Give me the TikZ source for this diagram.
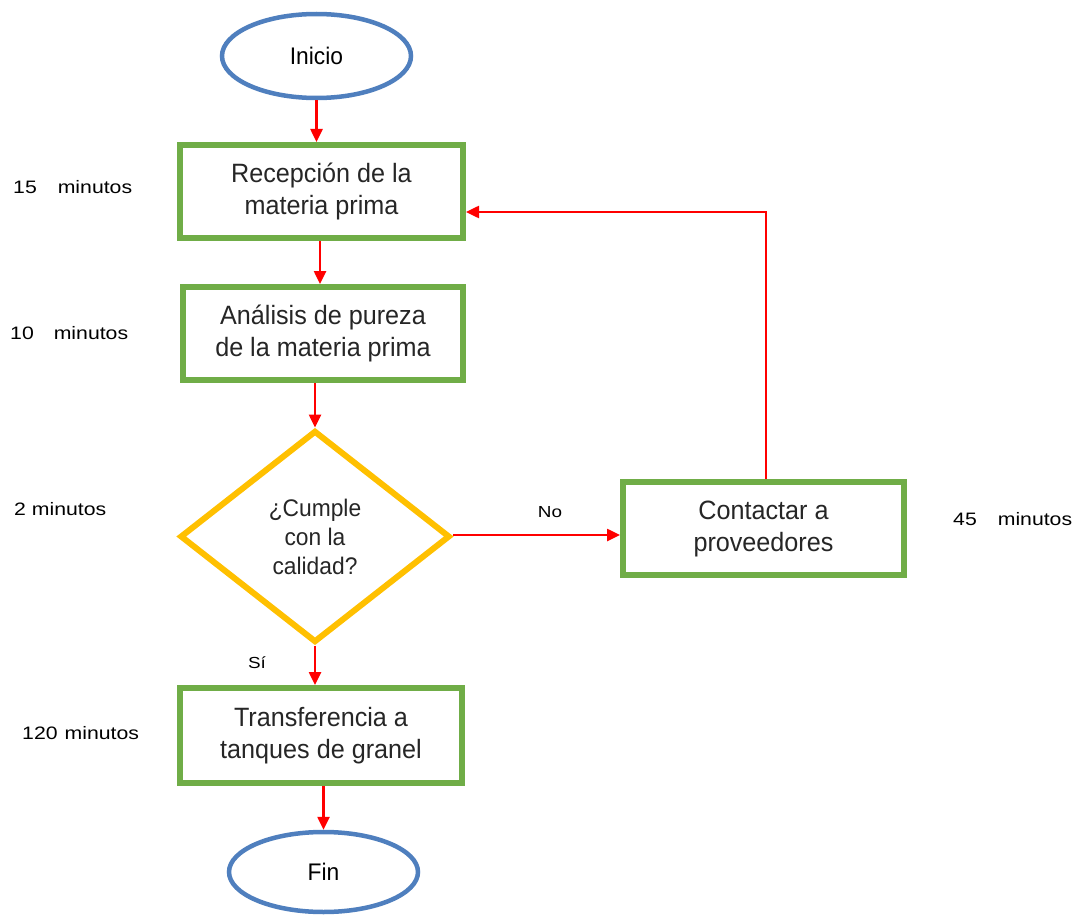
\documentclass[tikz,border=0pt]{standalone}
\usepackage{fontspec}
\setmainfont{Liberation Sans}
\newfontfamily\boxfont{Liberation Sans}[FakeStretch=0.95]
\newfontfamily\labelfont{Liberation Sans}[FakeStretch=1.18]
\usetikzlibrary{shapes.geometric,arrows.meta}
\definecolor{startblue}{HTML}{4F7FBE}
\definecolor{boxgreen}{HTML}{70AD47}
\definecolor{decgold}{HTML}{FFC000}
\definecolor{flowred}{HTML}{FF0000}
\definecolor{boxtext}{HTML}{262626}
\begin{document}
\begin{tikzpicture}[x=1pt,y=-1pt,
  terminal/.style={ellipse,draw=startblue,line width=4.5pt,fill=white,
    inner sep=0pt,outer sep=2.25pt,minimum width=189pt,
    font=\boxfont\fontsize{24}{28}\selectfont,text=black},
  stepbox/.style={rectangle,draw=boxgreen,line width=6pt,fill=white,
    inner sep=0pt,outer sep=3pt,minimum width=282pt,minimum height=93pt,
    align=center,font=\boxfont\fontsize{26.5}{32}\selectfont,text=boxtext},
  decision/.style={diamond,draw=decgold,line width=6pt,fill=white,
    inner sep=0pt,outer sep=3pt,minimum width=270pt,minimum height=212pt,
    align=center,font=\boxfont\fontsize{24}{29}\selectfont,text=boxtext},
  timelabel/.style={anchor=west,inner sep=0pt,
    font=\labelfont\fontsize{18}{22}\selectfont},
  branchlabel/.style={inner sep=0pt,font=\labelfont\fontsize{16}{20}\selectfont},
  flow/.style={draw=flowred,line width=2.5pt,
    -{Triangle[length=13pt,width=12pt]}}]
\useasboundingbox (0,0) rectangle (1082,915);

% process nodes
\node[terminal,minimum height=84pt] (inicio) at (316.5,56) {Inicio};
\node[stepbox,minimum width=283pt] (rec) at (321.5,191.5)
  {Recepción de la\\materia prima};
\node[stepbox,minimum width=280pt] (ana) at (323,333.5)
  {Análisis de pureza\\de la materia prima};
\node[decision] (dec) at (315,536.5) {¿Cumple\\con la\\calidad?};
\node[stepbox,minimum height=95pt] (tra) at (321,735.5)
  {Transferencia a\\tanques de granel};
\node[terminal,minimum height=80pt] (fin) at (323.5,872) {Fin};
\node[stepbox,minimum width=281pt] (con) at (763.5,528.5)
  {Contactar a\\proveedores};

% durations
\node[timelabel] (t1) at (13,187) {15\hspace{21pt}minutos};
\node[timelabel] (t2) at (10,333) {10\hspace{20pt}minutos};
\node[timelabel] (t3) at (14,509) {2 minutos};
\node[timelabel] (t4) at (22,733) {120\hspace{7pt}minutos};
\node[timelabel] (t5) at (953,519) {45\hspace{21pt}minutos};

% branch labels
\node[branchlabel] (no) at (550,512) {No};
\node[branchlabel] (si) at (257,663) {Sí};

% connectors
\draw[flow] (inicio.south) -- (inicio.south |- rec.north);
\draw[flow] (320,0 |- rec.south) -- (320,0 |- ana.north);
\draw[flow] (ana.south -| dec.north) -- (dec.north);
\draw[flow] (dec.south) -- (dec.south |- tra.north);
\draw[flow] (fin.north |- tra.south) -- (fin.north);
\draw[flow] (dec.east |- 0,535) -- (con.west |- 0,535);
\coordinate (fb) at (766,212);
\draw[flow] (con.north -| fb) -- (fb) -- (fb -| rec.east);
\end{tikzpicture}
\end{document}
